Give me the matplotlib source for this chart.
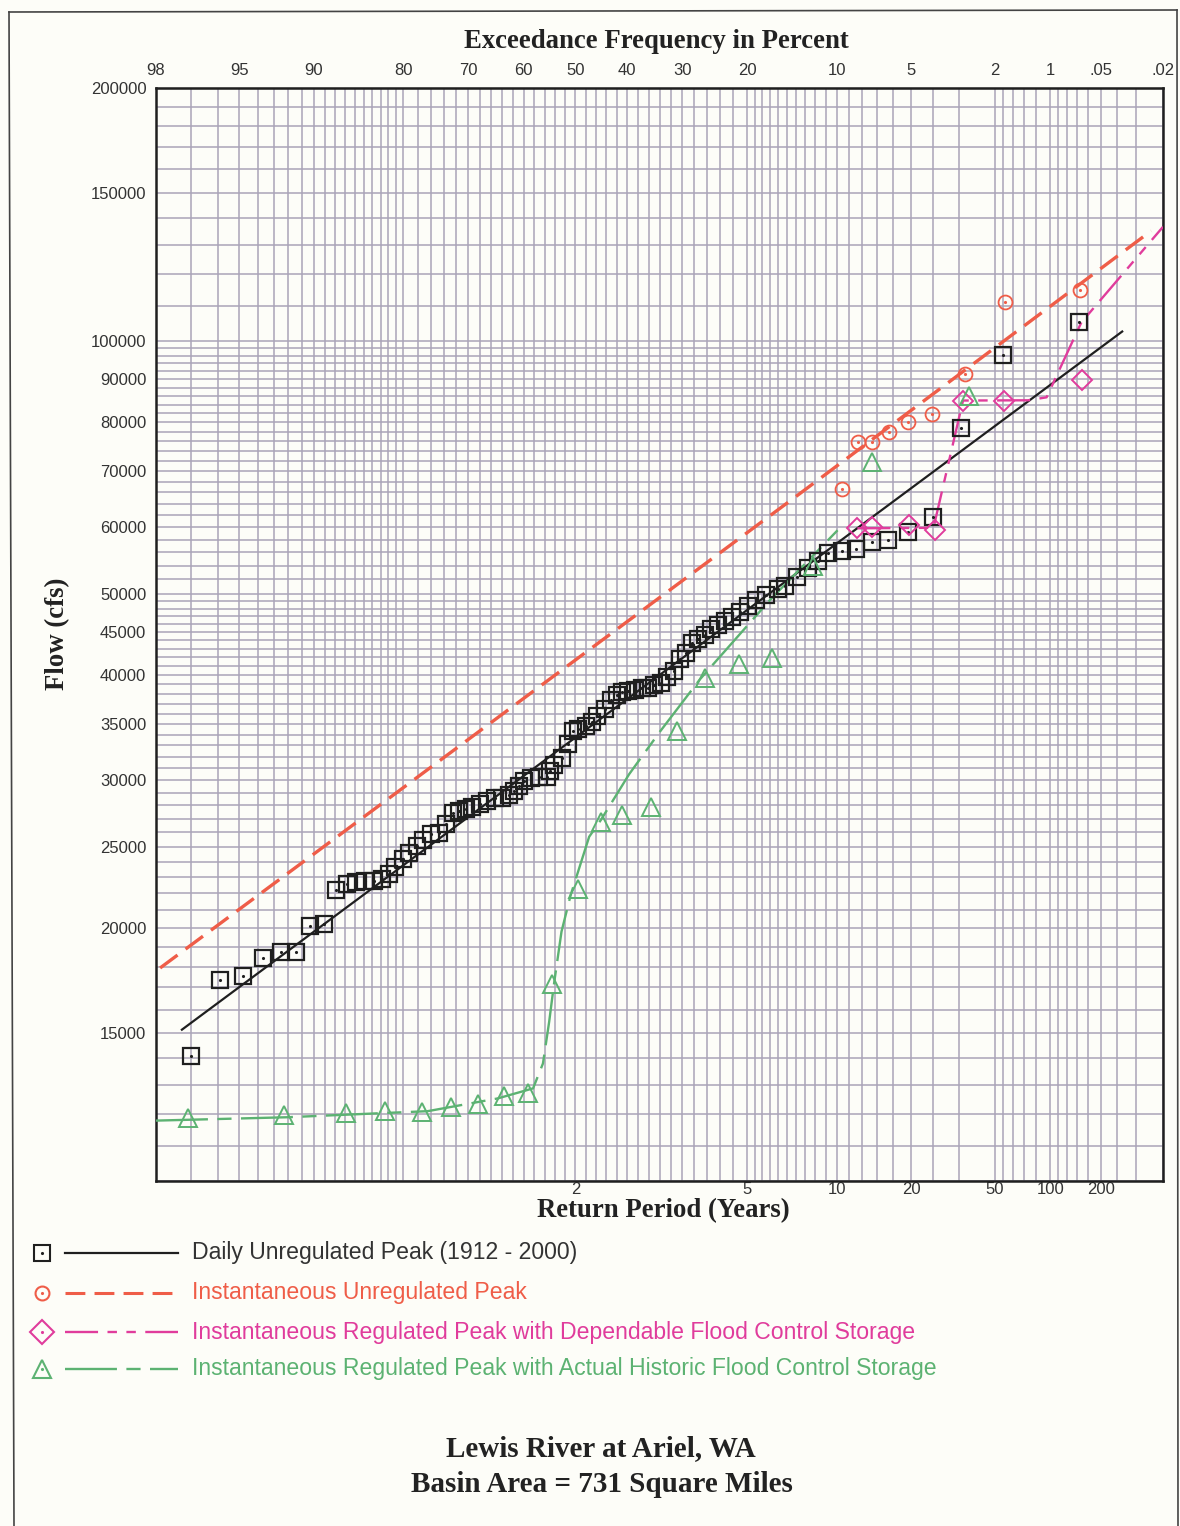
import numpy as np
import matplotlib
matplotlib.use("Agg")
import matplotlib.pyplot as plt
import matplotlib.ticker as mticker
from matplotlib.lines import Line2D
from statistics import NormalDist

# ---- data (exceedance frequency in percent, flow in cfs) ----
daily_exc = [97.0, 95.9, 94.8, 93.7, 92.5, 91.4, 90.3, 89.1, 87.9, 86.8,
             85.9, 84.9, 83.8, 82.8, 81.9, 81.1, 80.1, 79.2, 78.1, 77.2,
             76.0, 74.8, 73.6, 72.5, 71.5, 70.4, 69.3, 67.9, 66.7, 65.3,
             64.0, 62.7, 61.8, 60.8, 59.9, 58.5, 57.0, 55.6, 54.9, 54.1,
             52.7, 51.5, 50.5, 49.4, 48.0, 46.8, 45.7, 44.3, 43.1, 42.0,
             41.0, 39.9, 38.5, 37.2, 36.1, 35.0, 33.8, 32.7, 31.5, 30.4,
             29.4, 28.4, 27.4, 26.3, 25.3, 24.2, 23.2, 22.1, 21.0, 19.9,
             18.8, 17.5, 16.0, 15.2, 13.9, 12.7, 11.7, 10.8, 9.6, 8.5,
             7.3, 6.26, 5.14, 4.01, 2.94, 1.81, 0.68]
daily_flow = [14100, 17350, 17530, 18420, 18720, 18720, 20090, 20200, 22230, 22590,
              22710, 22770, 22770, 22900, 23210, 23660, 24180, 24570, 25050, 25470,
              25880, 25950, 26600, 27410, 27560, 27710, 27850, 28090, 28310, 28540,
              28540, 28840, 29160, 29560, 29960, 30210, 30290, 30290, 30780, 31300,
              31900, 33140, 34350, 34540, 34820, 35200, 35780, 36460, 37370, 37880,
              38190, 38300, 38400, 38610, 38610, 38920, 39140, 39770, 40430, 41780,
              42460, 43640, 44120, 44720, 45340, 45960, 46450, 46950, 47600, 48390,
              49190, 49900, 50680, 51080, 52300, 53650, 54690, 55890, 56190, 56480,
              57560, 57870, 59290, 61760, 78800, 96190, 105200]

inst_exc = [9.54, 8.34, 7.31, 6.21, 5.15, 4.03, 2.83, 1.76, 0.67]
inst_flow = [66600, 75800, 75900, 77900, 80100, 81900, 91400, 111100, 115100]

dep_exc = [8.36, 7.34, 5.12, 3.92, 2.88, 1.79, 0.65]
dep_flow = [59830, 60090, 60440, 59480, 84920, 84720, 89740]

hist_exc = [97.1, 92.3, 86.9, 82.5, 77.4, 72.9, 68.4, 63.7, 59.2, 54.6, 49.5,
            45.0, 40.9, 35.6, 31.0, 26.2, 21.15, 16.8, 12.2, 7.32, 2.68]
hist_flow = [11880, 11970, 12040, 12120, 12080, 12240, 12350, 12610, 12720, 17180, 22280,
             26760, 27250, 27860, 34300, 39690, 41210, 41950, 53900, 71780, 86060]

# frequency curves
fit_exc = [97.3, 0.37]
fit_flow = [15140, 102600]
inst_curve_exc = [97.9, 13.5, 0.24]
inst_curve_flow = [17930, 65900, 135200]
dep_curve_exc = [8.36, 3.97, 2.88, 1.33, 1.05, 0.66, 0.2]
dep_curve_flow = [59830, 59920, 84920, 84980, 85670, 105200, 136700]
hist_curve_exc = [98.0, 92.05, 76.5, 64.8, 58.2, 56.3, 55.1, 54.1, 52.7, 50.9,
                  47.3, 45.0, 39.6, 34.0, 27.1, 17.0, 9.95]
hist_curve_flow = [11800, 11910, 12110, 12540, 12890, 13800, 15470, 17270, 19810, 21910,
                   25690, 26910, 30500, 34220, 39540, 49180, 59510]

# axis ticks
top_pct = [98, 95, 90, 80, 70, 60, 50, 40, 30, 20, 10, 5, 2, 1, 0.5, 0.2]
top_labels = ["98", "95", "90", "80", "70", "60", "50", "40", "30", "20",
              "10", "5", "2", "1", ".05", ".02"]
return_periods = [2, 5, 10, 20, 50, 100, 200]
y_ticks = [15000, 20000, 25000, 30000, 35000, 40000, 45000, 50000,
           60000, 70000, 80000, 90000, 100000, 150000, 200000]

# probability-paper rulings
grid_pct = (list(range(98, 80, -1)) + list(range(80, 20, -2)) + list(range(20, 2, -1))
            + [2, 1.8, 1.6, 1.4, 1.2, 1.0, 0.9, 0.8, 0.7, 0.6, 0.5, 0.4, 0.3, 0.2])
grid_flow = (list(range(10000, 50000, 1000)) + list(range(50000, 100000, 2000))
             + list(range(100000, 200001, 10000)))

BLACK = "#1f1f1f"
RED = "#ef5d48"
MAGENTA = "#e03c9c"
GREEN = "#5cb272"
GRID = "#aaa4b8"
BG = "#fdfdf8"

_nd = NormalDist()


def prob_x(pct):
    """exceedance percent -> standard normal deviate (probability scale)"""
    pct = np.atleast_1d(np.asarray(pct, dtype=float))
    return np.array([_nd.inv_cdf(1 - p / 100.0) for p in pct])


W, H = 1180, 1526
fig = plt.figure(figsize=(W / 100, H / 100), dpi=100, facecolor=BG)


def fx(x):
    return x / W


def fy(y):
    return 1 - y / H


ax = fig.add_axes([fx(156), fy(1181), (1163 - 156) / W, (1181 - 88) / H])
ax.set_facecolor(BG)
ax.set_yscale("log")
x0, x1 = prob_x([98, 0.2])
ax.set_xlim(x0, x1)
ax.set_ylim(10000, 200000)

ax.vlines(prob_x(grid_pct), 10000, 200000, color=GRID, lw=1.1, zorder=1)
ax.hlines(grid_flow, x0, x1, color=GRID, lw=1.1, zorder=1)

for s in ax.spines.values():
    s.set_color(BLACK)
    s.set_linewidth(1.8)

# y axis
ax.set_yticks(y_ticks, labels=[str(v) for v in y_ticks])
ax.yaxis.set_minor_locator(mticker.NullLocator())
ax.tick_params(axis="y", length=0, pad=7, labelsize=12, labelcolor="#333333")

# bottom: return period
ax.set_xticks(prob_x([100.0 / t for t in return_periods]),
              labels=[str(t) for t in return_periods])
ax.tick_params(axis="x", length=0, pad=1, labelsize=12, labelcolor="#333333")

# top: exceedance frequency
sec = ax.secondary_xaxis("top")
sec.set_xticks(prob_x(top_pct), labels=top_labels)
sec.tick_params(length=0, pad=7, labelsize=12, labelcolor="#333333")

for lab in ax.get_xticklabels() + ax.get_yticklabels() + sec.get_xticklabels():
    lab.set_family("Liberation Sans")

# frequency curves
ax.plot(prob_x(fit_exc), fit_flow, color=BLACK, lw=1.6, zorder=3)
ax.plot(prob_x(inst_curve_exc), inst_curve_flow, color=RED, lw=2.4,
        dashes=(6.5, 3), zorder=3)
ax.plot(prob_x(dep_curve_exc), dep_curve_flow, color=MAGENTA, lw=1.7,
        dashes=(14, 4, 4, 4, 4, 4), zorder=3)
ax.plot(prob_x(hist_curve_exc), hist_curve_flow, color=GREEN, lw=1.7,
        dashes=(22, 4, 6, 4), zorder=3)

# plotted peaks
ax.plot(prob_x(daily_exc), daily_flow, ls="none", marker="s", ms=11.5,
        mfc="none", mec=BLACK, mew=1.6, zorder=4)
ax.plot(prob_x(daily_exc), daily_flow, ls="none", marker=".", ms=2.5,
        color=BLACK, zorder=4)
ax.plot(prob_x(inst_exc), inst_flow, ls="none", marker="o", ms=10,
        mfc="none", mec=RED, mew=1.3, zorder=4)
ax.plot(prob_x(inst_exc), inst_flow, ls="none", marker=".", ms=2.5,
        color=RED, zorder=4)
ax.plot(prob_x(dep_exc), dep_flow, ls="none", marker="D", ms=10,
        mfc="none", mec=MAGENTA, mew=1.4, zorder=4)
ax.plot(prob_x(hist_exc), hist_flow, ls="none", marker="^", ms=13,
        mfc="none", mec=GREEN, mew=1.4, zorder=4)

# axis titles
title_font = dict(family="Liberation Serif", weight="bold", color="#222222")
fig.text(fx(656), fy(41), "Exceedance Frequency in Percent", ha="center",
         va="center", fontsize=19.3, **title_font)
fig.text(fx(663), fy(1211), "Return Period (Years)", ha="center",
         va="center", fontsize=19.3, **title_font)
fig.text(fx(58), fy(634), "Flow (cfs)", ha="center", va="center",
         rotation=90, fontsize=19.3, **title_font)
fig.text(fx(601), fy(1449), "Lewis River at Ariel, WA", ha="center",
         va="center", fontsize=21, **title_font)
fig.text(fx(602), fy(1485), "Basin Area = 731 Square Miles", ha="center",
         va="center", fontsize=21, **title_font)

# legend and page border drawn in pixel space
lax = fig.add_axes([0, 0, 1, 1])
lax.set_xlim(0, W)
lax.set_ylim(H, 0)
lax.axis("off")
lax.patch.set_alpha(0)

legend_rows = [
    (1253, BLACK, "s", 11.5, None, "Daily Unregulated Peak (1912 - 2000)", "#333333"),
    (1293, RED, "o", 10, (6.5, 3), "Instantaneous Unregulated Peak", RED),
    (1332, MAGENTA, "D", 12, (14, 4, 4, 4, 4, 4), "Instantaneous Regulated Peak with Dependable Flood Control Storage", MAGENTA),
    (1369, GREEN, "^", 13, (22, 4, 6, 4), "Instantaneous Regulated Peak with Actual Historic Flood Control Storage", GREEN),
]
for y, col, mk, ms, dash, text, tcol in legend_rows:
    lax.plot([42], [y], ls="none", marker=mk, ms=ms, mfc="none", mec=col, mew=1.5)
    lax.plot([42], [y], ls="none", marker=".", ms=2.5, color=col)
    if dash is None:
        lax.plot([65, 178], [y, y], color=col, lw=1.6)
    else:
        lax.plot([65, 178], [y, y], color=col, lw=2.2 if mk == "o" else 1.7, dashes=dash)
    lax.text(192, y, text, ha="left", va="center", fontsize=16.6,
             family="Liberation Sans", color=tcol)

border = dict(color="#444444", lw=1.2)
lax.add_line(Line2D([9, 1177], [12, 10], **border))
lax.add_line(Line2D([9, 14], [12, 1526], **border))
lax.add_line(Line2D([1177, 1178], [10, 1526], **border))

fig.savefig("out.png", dpi=100, facecolor=BG)
